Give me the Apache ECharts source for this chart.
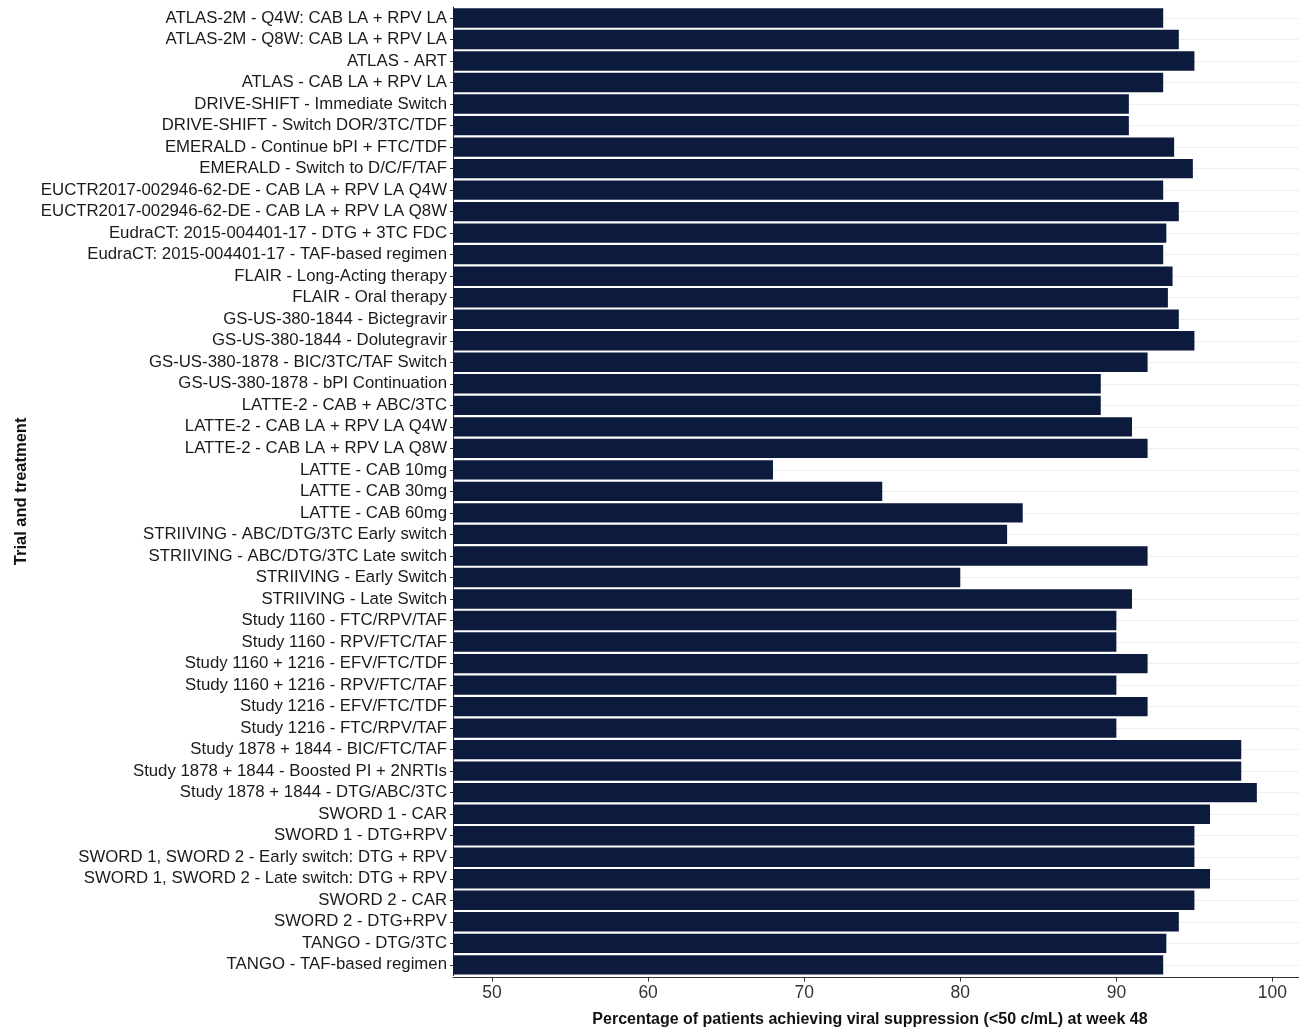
<!DOCTYPE html>
<html>
<head>
<meta charset="utf-8">
<script src="https://cdn.jsdelivr.net/npm/echarts@6/dist/echarts.min.js"></script>
<style>
html,body{margin:0;padding:0;background:#fff;}
#chart{width:1299px;height:1028px;}
</style>
</head>
<body>
<div id="chart"></div>
<script>
const categories = [
  "ATLAS-2M - Q4W: CAB LA + RPV LA",
  "ATLAS-2M - Q8W: CAB LA + RPV LA",
  "ATLAS - ART",
  "ATLAS - CAB LA + RPV LA",
  "DRIVE-SHIFT - Immediate Switch",
  "DRIVE-SHIFT - Switch DOR/3TC/TDF",
  "EMERALD - Continue bPI + FTC/TDF",
  "EMERALD - Switch to D/C/F/TAF",
  "EUCTR2017-002946-62-DE - CAB LA + RPV LA Q4W",
  "EUCTR2017-002946-62-DE - CAB LA + RPV LA Q8W",
  "EudraCT: 2015-004401-17 - DTG + 3TC FDC",
  "EudraCT: 2015-004401-17 - TAF-based regimen",
  "FLAIR - Long-Acting therapy",
  "FLAIR - Oral therapy",
  "GS-US-380-1844 - Bictegravir",
  "GS-US-380-1844 - Dolutegravir",
  "GS-US-380-1878 - BIC/3TC/TAF Switch",
  "GS-US-380-1878 - bPI Continuation",
  "LATTE-2 - CAB + ABC/3TC",
  "LATTE-2 - CAB LA + RPV LA Q4W",
  "LATTE-2 - CAB LA + RPV LA Q8W",
  "LATTE - CAB 10mg",
  "LATTE - CAB 30mg",
  "LATTE - CAB 60mg",
  "STRIIVING - ABC/DTG/3TC Early switch",
  "STRIIVING - ABC/DTG/3TC Late switch",
  "STRIIVING - Early Switch",
  "STRIIVING - Late Switch",
  "Study 1160 - FTC/RPV/TAF",
  "Study 1160 - RPV/FTC/TAF",
  "Study 1160 + 1216 - EFV/FTC/TDF",
  "Study 1160 + 1216 - RPV/FTC/TAF",
  "Study 1216 - EFV/FTC/TDF",
  "Study 1216 - FTC/RPV/TAF",
  "Study 1878 + 1844 - BIC/FTC/TAF",
  "Study 1878 + 1844 - Boosted PI + 2NRTIs",
  "Study 1878 + 1844 - DTG/ABC/3TC",
  "SWORD 1 - CAR",
  "SWORD 1 - DTG+RPV",
  "SWORD 1, SWORD 2 - Early switch: DTG + RPV",
  "SWORD 1, SWORD 2 - Late switch: DTG + RPV",
  "SWORD 2 - CAR",
  "SWORD 2 - DTG+RPV",
  "TANGO - DTG/3TC",
  "TANGO - TAF-based regimen"
];
const suppression = [
  93.0, 94.0, 95.0, 93.0, 90.8, 90.8, 93.7, 94.9, 93.0, 94.0,
  93.2, 93.0, 93.6, 93.3, 94.0, 95.0, 92.0, 89.0, 89.0, 91.0,
  92.0, 68.0, 75.0, 84.0, 83.0, 92.0, 80.0, 91.0, 90.0, 90.0,
  92.0, 90.0, 92.0, 90.0, 98.0, 98.0, 99.0, 96.0, 95.0, 95.0,
  96.0, 95.0, 94.0, 93.2, 93.0
];
const xTicks = [50, 60, 70, 80, 90, 100];
const xTitle = "Percentage of patients achieving viral suppression (<50 c/mL) at week 48";
const yTitle = "Trial and treatment";

const chart = echarts.init(document.getElementById('chart'), null, {renderer: 'canvas'});
const FONT = 'Liberation Sans, Arial, sans-serif';
chart.setOption({
  animation: false,
  backgroundColor: '#ffffff',
  grid: {left: 453, right: 0, top: 7.2, height: 968.4, containLabel: false, outerBoundsMode: 'none'},
  xAxis: {
    type: 'value',
    min: 47.5,
    max: 101.7,
    offset: 2,
    name: xTitle,
    nameLocation: 'middle',
    nameGap: 34,
    nameTextStyle: {fontFamily: FONT, fontSize: 16, fontWeight: 'bold', color: '#111', padding: [0, 12, 0, 0]},
    axisLine: {show: true, lineStyle: {color: '#333', width: 1}},
    axisTick: {show: true, length: 4, lineStyle: {color: '#333'}, customValues: xTicks},
    axisLabel: {fontFamily: FONT, fontSize: 17.5, color: '#333', margin: 7, customValues: xTicks},
    splitLine: {show: false}
  },
  yAxis: {
    type: 'category',
    data: categories,
    inverse: true,
    name: yTitle,
    nameLocation: 'middle',
    nameGap: 422,
    nameRotate: 90,
    nameTextStyle: {fontFamily: FONT, fontSize: 16.5, fontWeight: 'bold', color: '#111'},
    axisLine: {show: true, lineStyle: {color: '#222', width: 1}},
    axisTick: {show: true, length: 3, alignWithLabel: true, lineStyle: {color: '#333'}},
    axisLabel: {fontFamily: FONT, fontSize: 16.8, color: '#1a1a1a', margin: 6, interval: 0},
    splitLine: {show: false}
  },
  series: [
    {
      type: 'line',
      data: [],
      z: 0,
      silent: true,
      markLine: {
        silent: true,
        z: 0,
        symbol: 'none',
        label: {show: false},
        emphasis: {disabled: true},
        lineStyle: {color: '#efefef', width: 1, type: 'solid'},
        data: categories.map(c => ({yAxis: c}))
      }
    },
    {
      type: 'bar',
      data: suppression,
      z: 5,
      barCategoryGap: '10%',
      itemStyle: {color: '#0c1b3d'},
      clip: true
    }
  ]
});
</script>
</body>
</html>
